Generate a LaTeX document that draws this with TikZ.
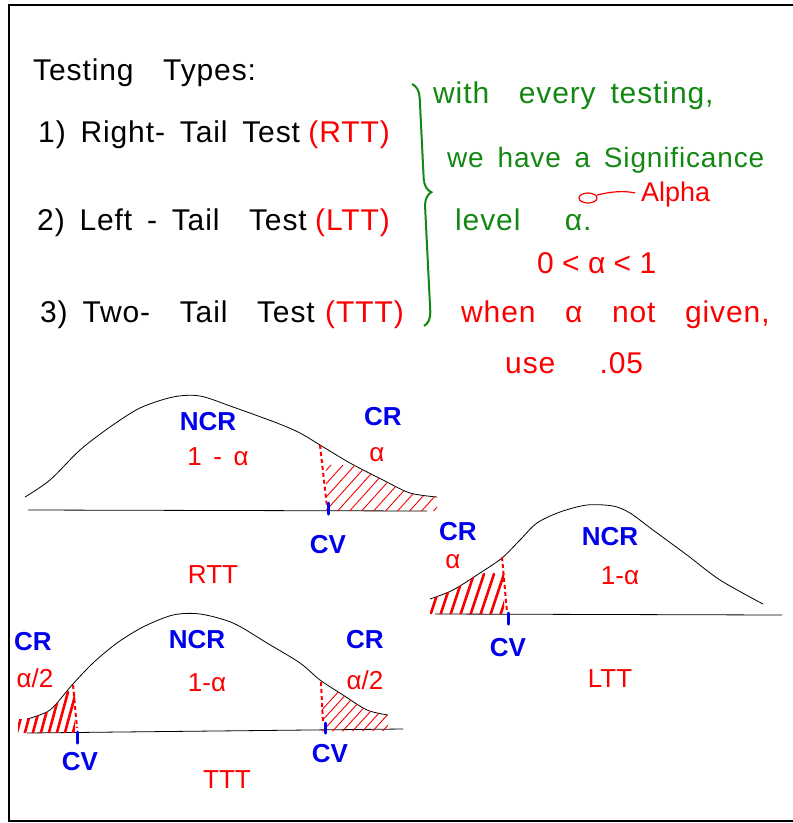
\documentclass[tikz,border=0pt]{standalone}
\usepackage{fontspec}
\setmainfont{Liberation Sans}[WordSpace=1.6]
\newfontfamily\handfont{Liberation Sans}[WordSpace=1.6, LetterSpace=3]
\usetikzlibrary{positioning,decorations.pathreplacing}
\definecolor{inkgreen}{RGB}{18,136,18}
\definecolor{inkred}{RGB}{250,0,0}
\definecolor{inkblue}{RGB}{0,0,235}
\tikzset{
  txt/.style     ={anchor=base west, inner sep=0pt, font=\handfont\fontsize{30}{32}\selectfont},
  note/.style    ={txt, text=inkgreen},
  hint/.style    ={txt, text=inkred},
  lab/.style     ={inner sep=0pt, font=\fontsize{26}{28}\selectfont},
  reg/.style     ={lab, text=inkblue, font=\bfseries\fontsize{26}{28}\selectfont},
  val/.style     ={lab, text=inkred},
  bell/.style    ={line width=0.8pt},
  axisline/.style={line width=0.8pt},
  cut/.style     ={inkred, dash pattern=on 4pt off 3pt, line width=2pt},
  cvmark/.style  ={inkblue, line width=3pt, line cap=round},
  hatch/.style   ={inkred, line width=0.9pt},
  hatchbold/.style={inkred, line width=2.6pt, line cap=round}
}
\newcommand{\rttbell}{plot[smooth] coordinates {(25,497) (50,480) (80,450) (110,427) (140,408) (173,397) (200,396) (233,407) (277,423) (300,433) (320,445) (350,463) (383,480) (410,493) (437,497)}}
\newcommand{\lttbell}{plot[smooth] coordinates {(430,599) (453,590) (480,573) (502,558) (520,540) (537,523) (560,512) (587,505) (613,506) (630,513) (653,530) (687,555) (720,580) (763,604)}}
\newcommand{\tttbell}{plot[smooth] coordinates {(27,719) (50,710) (72,685) (93,663) (117,643) (143,627) (173,615) (200,614) (233,623) (267,643) (300,663) (320,680) (343,695) (367,710) (388,715)}}

\begin{document}
\begin{tikzpicture}[x=1pt, y=-1pt]
  \useasboundingbox (0,0) rectangle (793,823);
  \draw[line width=2.4pt] (793,5) -- (9,5) -- (9,821) -- (793,821);

  \node[txt] (title) at (33,80) {Testing\ \ Types:};
  \node[txt] (t1) at (38,142) {1) Right- Tail Test};
  \node[hint, right=8pt of t1.base east, anchor=base west] (t1a) {(RTT)};
  \node[txt] (t2) at (37,230) {2) Left\ - Tail\ \ Test};
  \node[hint, right=8pt of t2.base east, anchor=base west] (t2a) {(LTT)};
  \node[txt] (t3) at (40,322) {3)\ Two- \ Tail\ \ Test};
  \node[hint, right=10pt of t3.base east, anchor=base west] (t3a) {(TTT)};

  \draw[inkgreen, line width=2pt, decorate, decoration={brace, amplitude=14pt, aspect=0.45}] (412,84) -- (424,326);
  \node[note] (n1) at (433,103) {with\ \ every\ testing,};
  \node[note, font=\handfont\fontsize{28}{30}\selectfont] (n2) at (447,167) {we\ have\ a\ Significance};
  \node[note] (n3) at (455,230) {level\ \ \ α.};
  \node[hint, font=\fontsize{27}{28}\selectfont] (alpha) at (641,201) {Alpha};
  \draw[inkred, line width=1.2pt] (588,198) ellipse (9pt and 5pt);
  \coordinate (ring) at (597,195);
  \draw[inkred, line width=1.2pt, shorten >=6pt] (ring) to[bend left=12] (alpha.west);
  \node[hint] (range) at (537,273) {0\;<\;α\;<\;1};
  \node[hint] (n4) at (461,322) {when\ \ α\ \ not\ \ given,};
  \node[hint] (n5) at (505,373) {use\ \ \ .05};

  % right tail
  \draw[bell] \rttbell;
  \draw[axisline] (28,510) -- (427,511);
  \begin{scope}
    \clip (326,380) rectangle (445,511);
    \clip \rttbell -- (437,511) -- (25,511) -- cycle;
    \foreach \x in {286,298,...,430} \draw[hatch] (\x,515) -- ++(45,-50);
  \end{scope}
  \draw[cut] (320,445) -- (327,507);
  \draw[cvmark] (328,503) -- (328,514);
  \node[reg] (rncr) at (208,422) {NCR};
  \node[val] (rconf) at (218,457) {1 - α};
  \node[reg] (rcr) at (383,417) {CR};
  \node[val] (ralpha) at (377,455) {α};
  \node[reg] (rcv) at (328,545) {CV};
  \node[val] (rname) at (213,575) {RTT};

  % left tail
  \draw[bell] \lttbell;
  \draw[axisline] (435,614) -- (782,615);
  \begin{scope}
    \clip (425,500) rectangle (504,614);
    \clip \lttbell -- (763,614) -- (430,614) -- cycle;
    \foreach \x in {420,430,...,500} \draw[hatchbold] (\x,616) -- ++(14,-42);
  \end{scope}
  \draw[cut] (502,557) -- (507,612);
  \draw[cvmark] (508,613) -- (508,624);
  \node[reg] (lcr) at (458,532) {CR};
  \node[val] (lalpha) at (453,562) {α};
  \node[reg] (lncr) at (610,537) {NCR};
  \node[val] (lconf) at (620,576) {1-α};
  \node[reg] (lcv) at (508,648) {CV};
  \node[val] (lname) at (610,679) {LTT};

  % two tails
  \draw[bell] \tttbell;
  \draw[axisline] (27,733) -- (403,729);
  \begin{scope}
    \clip (18,600) rectangle (75,735);
    \clip \tttbell -- (388,731) -- (27,733) -- (18,733) -- (18,719) -- cycle;
    \foreach \x in {8,16,...,76} \draw[hatchbold] (\x,736) -- ++(12,-44);
  \end{scope}
  \begin{scope}
    \clip (322,600) rectangle (395,731);
    \clip \tttbell -- (388,731) -- (27,733) -- cycle;
    \foreach \x in {300,310,...,392} \draw[hatch] (\x,734) -- ++(40,-44);
  \end{scope}
  \draw[cut] (73,685) -- (77,728);
  \draw[cut] (321,682) -- (323,723);
  \draw[cvmark] (77,732) -- (77,743);
  \draw[cvmark] (325,723) -- (325,733);
  \node[reg] (tcrl) at (33,642) {CR};
  \node[val] (talphal) at (35,678) {α/2};
  \node[reg] (tncr) at (197,640) {NCR};
  \node[val] (tconf) at (207,683) {1-α};
  \node[reg] (tcrr) at (365,640) {CR};
  \node[val] (talphar) at (365,680) {α/2};
  \node[reg] (tcvl) at (80,762) {CV};
  \node[reg] (tcvr) at (330,754) {CV};
  \node[val] (tname) at (227,780) {TTT};
\end{tikzpicture}
\end{document}
